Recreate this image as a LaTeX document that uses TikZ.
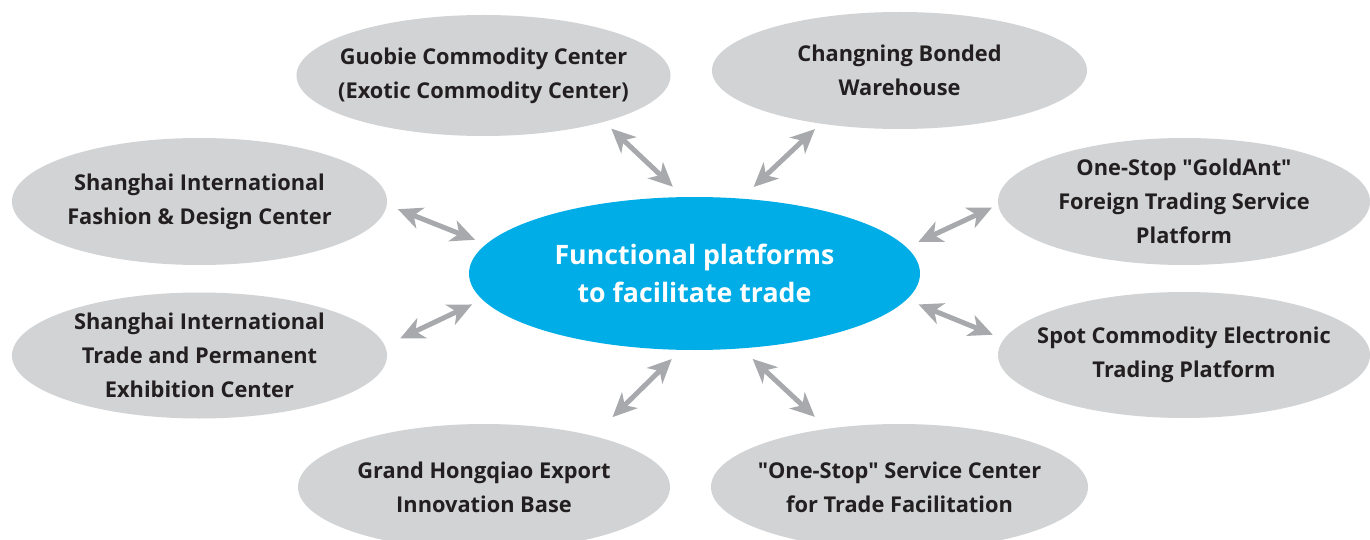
\documentclass[tikz,border=0pt]{standalone}
\usepackage{fontspec}
\setmainfont{Open Sans}
\usetikzlibrary{arrows.meta, positioning, shapes.geometric}
\definecolor{hubblue}{RGB}{0,173,230}
\definecolor{platgray}{RGB}{209,211,212}
\definecolor{arrowgray}{RGB}{167,169,172}
\definecolor{textdark}{RGB}{35,31,32}

\begin{document}
\begin{tikzpicture}[node distance=4cm,>={Stealth[length=0.48cm, width=0.44cm, inset=0.14cm]},
    platform/.style={ellipse, fill=platgray, text=textdark, align=center, font=\bfseries\fontsize{12.4}{19.4}\selectfont, inner xsep=-0.8cm, inner ysep=-0.4cm, outer sep=0pt, minimum width=7.48cm, minimum height=2.52cm},
    biarrow/.style={<->, draw=arrowgray, line width=0.1cm}]
    \useasboundingbox (0,0) rectangle (27.4,-10.8);

    % Nodo central
    \node (hub) at (13.89,-5.47) [ellipse, fill=hubblue, text=white, align=center, font=\bfseries\fontsize{15.2}{21.6}\selectfont, inner sep=0pt, outer sep=0pt, minimum width=9.02cm, minimum height=3.06cm] {Functional platforms\\to facilitate trade};

    % Plataformas alrededor
    \node (guobie) [left of=hub, xshift=-0.22cm, yshift=3.96cm, platform, minimum height=2.42cm] {Guobie Commodity Center\\(Exotic Commodity Center)};
    \node (changning) [right of=hub, xshift=0.10cm, yshift=4.06cm, platform, minimum width=7.5cm, minimum height=2.34cm] {Changning Bonded\\Warehouse};
    \node (fashion) [left of=hub, xshift=-5.90cm, yshift=1.44cm, platform, minimum width=7.5cm, minimum height=2.54cm] {Shanghai International\\Fashion \& Design Center};
    \node (goldant) [right of=hub, xshift=5.79cm, yshift=1.44cm, platform, minimum width=7.44cm, minimum height=2.54cm] {One-Stop \textquotedbl GoldAnt\textquotedbl\\Foreign Trading Service\\Platform};
    \node (trade) [left of=hub, xshift=-5.90cm, yshift=-1.64cm, platform, minimum width=7.5cm] {Shanghai International\\Trade and Permanent\\Exhibition Center};
    \node (spot) [right of=hub, xshift=5.79cm, yshift=-1.63cm, platform, minimum width=7.44cm] {Spot Commodity Electronic\\Trading Platform};
    \node (grand) [left of=hub, xshift=-0.21cm, yshift=-4.27cm, platform, minimum width=7.44cm] {Grand Hongqiao Export\\Innovation Base};
    \node (onestop) [right of=hub, xshift=0.10cm, yshift=-4.27cm, platform, minimum width=7.54cm] {\textquotedbl One-Stop\textquotedbl\ Service Center\\for Trade Facilitation};

    % Flechas dobles
    \draw[biarrow, shorten <=0.30cm, shorten >=0.20cm] (hub.98.7) -- (guobie.-21.4);
    \draw[biarrow, shorten <=0.34cm, shorten >=0.16cm] (hub.58.4) -- (changning.214);
    \draw[biarrow, shorten <=0.24cm, shorten >=0.24cm] (hub.172.8) -- (fashion.-1.1);
    \draw[biarrow, shorten <=0.26cm, shorten >=0.14cm] (hub.7.1) -- (goldant.181.5);
    \draw[biarrow, shorten <=0.23cm, shorten >=0.34cm] (hub.187) -- (trade.3.9);
    \draw[biarrow, shorten <=0.26cm, shorten >=0.24cm] (hub.-7.1) -- (spot.175.5);
    \draw[biarrow, shorten <=0.26cm, shorten >=0.54cm] (hub.260.4) -- (grand.25.6);
    \draw[biarrow, shorten <=0.31cm, shorten >=0.35cm] (hub.-58.2) -- (onestop.141.9);
\end{tikzpicture}
\end{document}
